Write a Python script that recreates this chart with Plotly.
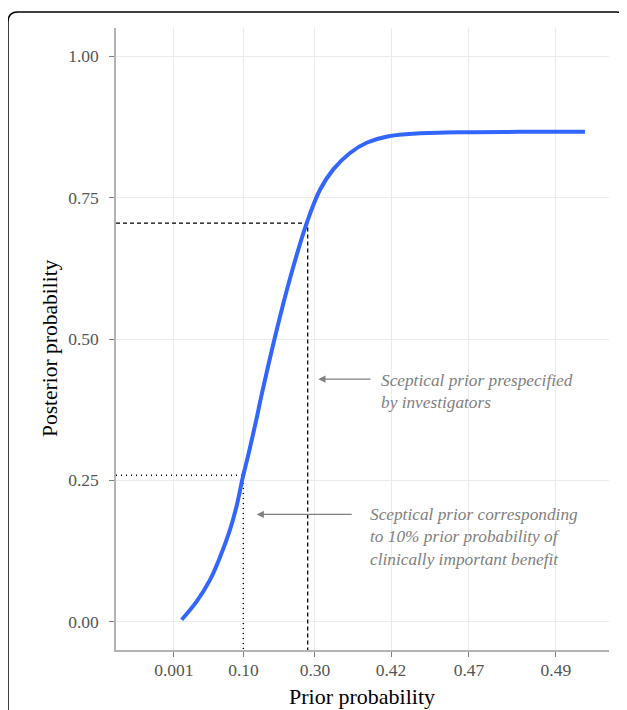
import numpy as np
import plotly.graph_objects as go

# ---- data ----
# prior SD (log axis) and posterior probability of clinically important benefit
prior_sd = [0.353, 0.427, 0.505, 0.573, 0.651, 0.708, 0.767, 0.820, 0.912,
            0.972, 1.175, 1.390, 1.717, 2.032, 2.404, 2.970, 3.668, 4.926,
            6.905, 12.99, 25.0, 58.06]
posterior_prob = [0.0035, 0.036, 0.074, 0.114, 0.163, 0.205, 0.257, 0.295, 0.360,
                  0.402, 0.516, 0.607, 0.705, 0.764, 0.800, 0.829, 0.847, 0.859,
                  0.8635, 0.8658, 0.8663, 0.8665]

tick_sd = [0.320, 0.772, 1.907, 4.99, 13.38, 40.2]
tick_labels = ["0.001", "0.10", "0.30", "0.42", "0.47", "0.49"]
y_ticks = [0.0, 0.25, 0.5, 0.75, 1.0]
y_tick_labels = ["0.00", "0.25", "0.50", "0.75", "1.00"]

investigator_sd, investigator_post = 1.739, 0.705
tenpct_sd, tenpct_post = 0.770, 0.259

label_investigator = "Sceptical prior prespecified<br>by investigators"
label_tenpct = ("Sceptical prior corresponding<br>to 10% prior probability of<br>"
                "clinically important benefit")

# ---- layout geometry (page offset of 8px from body margin) ----
OFF = 8
W, H = 619, 702
ML = 116 - OFF
MT = 28 - OFF
MR = W - (609 - OFF)
MB = H - (650 - OFF)
x_range_log = [-0.813, 1.896]
y_range = [-0.05, 1.05]
FONT = "Liberation Serif"
GRAY = "#808080"

def px2paper(px, py):
    fx, fy = px - OFF, py - OFF
    return (fx - ML) / (W - ML - MR), (H - MB - fy) / (H - MT - MB)

fig = go.Figure()

# reference lines
xmin = 10 ** x_range_log[0]
fig.add_trace(go.Scatter(x=[xmin, investigator_sd, investigator_sd],
                         y=[investigator_post, investigator_post, y_range[0]],
                         mode="lines", line=dict(color="black", width=1.3, dash="4px,3px"),
                         hoverinfo="skip", showlegend=False))
fig.add_trace(go.Scatter(x=[xmin, tenpct_sd, tenpct_sd],
                         y=[tenpct_post, tenpct_post, y_range[0]],
                         mode="lines", line=dict(color="black", width=1.4, dash="1px,4px"),
                         hoverinfo="skip", showlegend=False))

# curve
fig.add_trace(go.Scatter(x=prior_sd, y=posterior_prob, mode="lines",
                         line=dict(color="#3366FF", width=4, shape="spline", smoothing=1.0),
                         showlegend=False))

# arrows
fig.add_annotation(x=0.2985, y=0.429, ax=0.5936, ay=0.429, xref="x", yref="y",
                   axref="x", ayref="y", text="", showarrow=True, arrowhead=2,
                   arrowsize=1.2, arrowwidth=1.2, arrowcolor=GRAY)
fig.add_annotation(x=-0.0399, y=0.1897, ax=0.4908, ay=0.1897, xref="x", yref="y",
                   axref="x", ayref="y", text="", showarrow=True, arrowhead=2,
                   arrowsize=1.2, arrowwidth=1.2, arrowcolor=GRAY)

# annotation texts
fig.add_annotation(x=0.6348, y=0.4078, xref="x", yref="y", text=label_investigator,
                   showarrow=False, xanchor="left", yanchor="middle", align="left",
                   font=dict(family=FONT, size=17.3, color=GRAY, style="italic"))
fig.add_annotation(x=0.5733, y=0.1507, xref="x", yref="y", text=label_tenpct,
                   showarrow=False, xanchor="left", yanchor="middle", align="left",
                   font=dict(family=FONT, size=17.3, color=GRAY, style="italic"))

# axis titles
tx, ty = px2paper(362, 696)
fig.add_annotation(x=tx, y=ty, xref="paper", yref="paper", text="Prior probability",
                   showarrow=False, xanchor="center", yanchor="middle",
                   font=dict(family=FONT, size=22, color="black"))
tx, ty = px2paper(50, 348)
fig.add_annotation(x=tx, y=ty, xref="paper", yref="paper", text="Posterior probability",
                   showarrow=False, textangle=-90, xanchor="center", yanchor="middle",
                   font=dict(family=FONT, size=21.5, color="black"))

# outer rounded box
x0, yb = px2paper(8, 740)
x1, yt = px2paper(626, 12)
r = 10
rx = r / (W - ML - MR)
ry = r / (H - MT - MB)
path = (f"M {x0},{yb} L {x0},{yt - ry} Q {x0},{yt} {x0 + rx},{yt} "
        f"L {x1 - rx},{yt} Q {x1},{yt} {x1},{yt - ry} L {x1},{yb}")
fig.add_shape(type="path", path=path, xref="paper", yref="paper",
              line=dict(color="black", width=1.5), layer="above")

fig.update_layout(
    width=W, height=H,
    margin=dict(l=ML, r=MR, t=MT, b=MB),
    paper_bgcolor="white", plot_bgcolor="white",
    font=dict(family=FONT, color="#4d4d4d"),
    xaxis=dict(type="log", range=x_range_log, tickvals=tick_sd, ticktext=tick_labels,
               showgrid=True, gridcolor="#ebebeb", gridwidth=1.2, zeroline=False,
               showline=True, linecolor="#b3b3b3", linewidth=1.5,
               ticks="outside", ticklen=5, tickcolor="#7f7f7f", tickwidth=1.2,
               ticklabelstandoff=-2,
               tickfont=dict(family=FONT, size=17.5, color="#555555")),
    yaxis=dict(range=y_range, tickvals=y_ticks, ticktext=y_tick_labels,
               showgrid=True, gridcolor="#ebebeb", gridwidth=1.2, zeroline=False,
               showline=True, linecolor="#b3b3b3", linewidth=1.5,
               ticks="outside", ticklen=5, tickcolor="#7f7f7f", tickwidth=1.2,
               ticklabelstandoff=7,
               tickfont=dict(family=FONT, size=17.5, color="#555555")),
)

fig.write_html("out.html")
